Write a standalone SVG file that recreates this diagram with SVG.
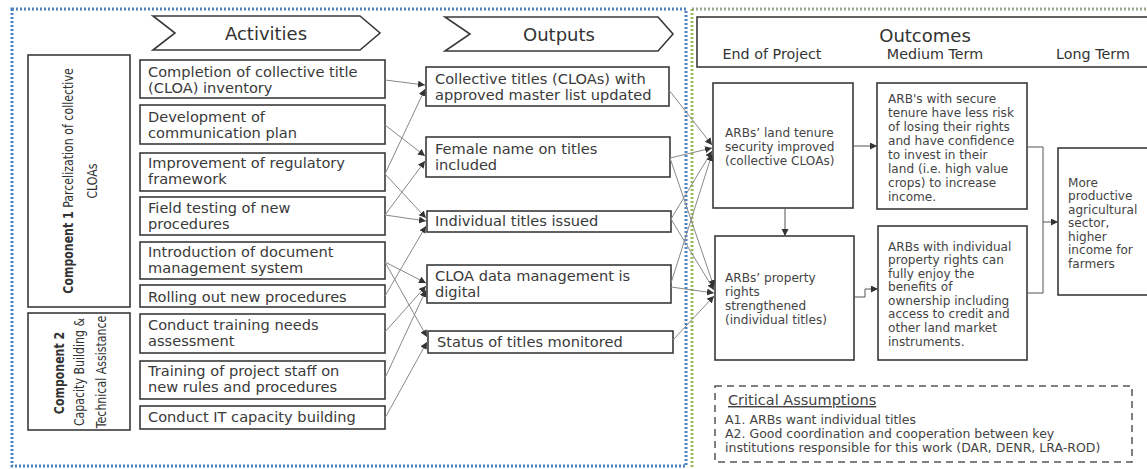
<svg xmlns="http://www.w3.org/2000/svg" width="1147" height="469" viewBox="0 0 1147 469">
<style>
.bx{fill:#fff;stroke:#3a3a3a;stroke-width:1.6}
.t{font-family:"DejaVu Sans",sans-serif;font-size:14.6px;fill:#3a3a3a}
.to{font-family:"DejaVu Sans",sans-serif;font-size:12.1px;fill:#444}
.ta{font-family:"DejaVu Sans",sans-serif;font-size:12.5px;fill:#444}
.h{font-family:"DejaVu Sans",sans-serif;font-size:18px;fill:#333;text-anchor:middle}
.sh{font-family:"DejaVu Sans",sans-serif;font-size:14.3px;fill:#333;text-anchor:middle}
.rv{font-family:"DejaVu Sans",sans-serif;font-size:11px;fill:#333;text-anchor:middle}
.c{fill:none;stroke:#888;stroke-width:1}
.cd{fill:none;stroke:#555;stroke-width:1}
</style>
<defs>
<marker id="ah" markerUnits="userSpaceOnUse" markerWidth="8" markerHeight="8" refX="7" refY="3.5" orient="auto">
<path d="M0,0 L7,3.5 L0,7 z" fill="#333"/>
</marker>
</defs>
<rect width="1147" height="469" fill="#fff"/>
<g id="borders">
<rect x="12" y="9" width="674" height="457" fill="none" stroke="#4f81bd" stroke-width="3" stroke-dasharray="2 2"/>
<line x1="692" y1="9" x2="692" y2="469" stroke="#9bbb59" stroke-width="3" stroke-dasharray="2 2"/>
<line x1="692" y1="9" x2="1147" y2="9" stroke="#9aa98a" stroke-width="3" stroke-dasharray="2 2"/>
</g>
<g id="hdr-activities">
<polygon class="bx" points="153,16 360,16 380,33 360,50 153,50 175,33"/>
<text class="h" x="266" y="40">Activities</text>
</g>
<g id="hdr-outputs">
<polygon class="bx" points="445,17 658,17 673,34 658,51 445,51 470,34"/>
<text class="h" x="559" y="41">Outputs</text>
</g>
<g id="hdr-outcomes">
<rect class="bx" x="697" y="17" width="470" height="50"/>
<text class="h" x="925" y="42">Outcomes</text>
<text class="sh" x="772" y="59">End of Project</text>
<text class="sh" x="935" y="59">Medium Term</text>
<text class="sh" x="1093" y="59">Long Term</text>
</g>
<g id="component1">
<rect class="bx" x="28" y="55" width="102" height="252"/>
<text class="rv" transform="translate(73,181) rotate(-90) scale(1,1.3)"><tspan font-weight="bold">Component 1</tspan> Parcelization of collective</text>
<text class="rv" transform="translate(97,181) rotate(-90) scale(1,1.3)">CLOAs</text>
</g>
<g id="component2">
<rect class="bx" x="28" y="313" width="102" height="117"/>
<text class="rv" font-weight="bold" transform="translate(64,373) rotate(-90) scale(1,1.3)">Component 2</text>
<text class="rv" transform="translate(84,372) rotate(-90) scale(1,1.3)">Capacity Building &amp;</text>
<text class="rv" transform="translate(106,372) rotate(-90) scale(1,1.3)">Technical Assistance</text>
</g>
<g id="act1"><rect class="bx" x="140" y="60" width="245" height="38"/><text class="t" x="148" y="77">Completion of collective title</text><text class="t" x="148" y="93">(CLOA) inventory</text></g>
<g id="act2"><rect class="bx" x="140" y="105" width="245" height="39"/><text class="t" x="148" y="122">Development of</text><text class="t" x="148" y="138">communication plan</text></g>
<g id="act3"><rect class="bx" x="140" y="153" width="245" height="38"/><text class="t" x="148" y="168">Improvement of regulatory</text><text class="t" x="148" y="184">framework</text></g>
<g id="act4"><rect class="bx" x="140" y="197" width="245" height="38"/><text class="t" x="148" y="213">Field testing of new</text><text class="t" x="148" y="229">procedures</text></g>
<g id="act5"><rect class="bx" x="140" y="242" width="245" height="37"/><text class="t" x="148" y="257">Introduction of document</text><text class="t" x="148" y="273">management system</text></g>
<g id="act6"><rect class="bx" x="140" y="285" width="245" height="22"/><text class="t" x="148" y="302">Rolling out new procedures</text></g>
<g id="act7"><rect class="bx" x="140" y="314" width="245" height="39"/><text class="t" x="148" y="330">Conduct training needs</text><text class="t" x="148" y="346">assessment</text></g>
<g id="act8"><rect class="bx" x="140" y="361" width="245" height="38"/><text class="t" x="148" y="376">Training of project staff on</text><text class="t" x="148" y="392">new rules and procedures</text></g>
<g id="act9"><rect class="bx" x="140" y="406" width="245" height="23"/><text class="t" x="148" y="422">Conduct IT capacity building</text></g>
<g id="out1"><rect class="bx" x="426" y="67" width="243" height="39"/><text class="t" x="435" y="84">Collective titles (CLOAs) with</text><text class="t" x="435" y="100">approved master list updated</text></g>
<g id="out2"><rect class="bx" x="426" y="137" width="244" height="40"/><text class="t" x="435" y="154">Female name on titles</text><text class="t" x="435" y="170">included</text></g>
<g id="out3"><rect class="bx" x="427" y="211" width="244" height="21"/><text class="t" x="435" y="226">Individual titles issued</text></g>
<g id="out4"><rect class="bx" x="427" y="265" width="244" height="38"/><text class="t" x="435" y="281">CLOA data management is</text><text class="t" x="435" y="297">digital</text></g>
<g id="out5"><rect class="bx" x="428" y="331" width="245" height="22"/><text class="t" x="437" y="347">Status of titles monitored</text></g>
<g id="oc-a"><rect class="bx" x="713" y="83" width="140" height="125"/><text class="to" x="725" y="137">ARBs’ land tenure</text><text class="to" x="725" y="151">security improved</text><text class="to" x="725" y="165">(collective CLOAs)</text></g>
<g id="oc-b"><rect class="bx" x="715" y="236" width="139" height="124"/><text class="to" x="725" y="282">ARBs’ property</text><text class="to" x="725" y="296">rights</text><text class="to" x="725" y="310">strengthened</text><text class="to" x="725" y="324">(individual titles)</text></g>
<g id="oc-c"><rect class="bx" x="877" y="83" width="150" height="126"/>
<text class="to" x="888" y="103">ARB's with secure</text><text class="to" x="888" y="117">tenure have less risk</text><text class="to" x="888" y="131">of losing their rights</text><text class="to" x="888" y="145">and have confidence</text><text class="to" x="888" y="159">to invest in their</text><text class="to" x="888" y="173">land (i.e. high value</text><text class="to" x="888" y="187">crops) to increase</text><text class="to" x="888" y="201">income.</text></g>
<g id="oc-d"><rect class="bx" x="878" y="226" width="149" height="134"/>
<text class="to" x="888" y="251">ARBs with individual</text><text class="to" x="888" y="264">property rights can</text><text class="to" x="888" y="278">fully enjoy the</text><text class="to" x="888" y="291">benefits of</text><text class="to" x="888" y="305">ownership including</text><text class="to" x="888" y="318">access to credit and</text><text class="to" x="888" y="332">other land market</text><text class="to" x="888" y="346">instruments.</text></g>
<g id="oc-e"><rect class="bx" x="1058" y="148" width="100" height="147"/>
<text class="to" x="1068" y="187">More</text><text class="to" x="1068" y="200">productive</text><text class="to" x="1068" y="214">agricultural</text><text class="to" x="1068" y="227">sector,</text><text class="to" x="1068" y="241">higher</text><text class="to" x="1068" y="254">income for</text><text class="to" x="1068" y="268">farmers</text></g>
<g id="assumptions">
<rect x="715" y="386" width="417" height="76" fill="none" stroke="#555" stroke-width="1.5" stroke-dasharray="7 5"/>
<text x="728" y="405" font-family="DejaVu Sans, sans-serif" font-size="14.5" fill="#444" text-decoration="underline">Critical Assumptions</text>
<text class="ta" x="725" y="424">A1. ARBs want individual titles</text>
<text class="ta" x="725" y="438">A2. Good coordination and cooperation between key</text>
<text class="ta" x="725" y="452">institutions responsible for this work (DAR, DENR, LRA-ROD)</text>
</g>
<g id="connectors">
<line class="c" x1="385" y1="80" x2="425" y2="85" marker-end="url(#ah)"/>
<line class="c" x1="385" y1="125" x2="425" y2="156" marker-end="url(#ah)"/>
<line class="c" x1="385" y1="174" x2="425" y2="89" marker-end="url(#ah)"/>
<line class="c" x1="385" y1="174" x2="426" y2="218" marker-end="url(#ah)"/>
<line class="c" x1="385" y1="215" x2="425" y2="161" marker-end="url(#ah)"/>
<line class="c" x1="385" y1="215" x2="426" y2="221" marker-end="url(#ah)"/>
<line class="c" x1="385" y1="296" x2="426" y2="226" marker-end="url(#ah)"/>
<line class="c" x1="385" y1="262" x2="426" y2="283" marker-end="url(#ah)"/>
<line class="c" x1="385" y1="262" x2="427" y2="337" marker-end="url(#ah)"/>
<line class="c" x1="385" y1="332" x2="426" y2="286" marker-end="url(#ah)"/>
<line class="c" x1="385" y1="378" x2="426" y2="290" marker-end="url(#ah)"/>
<line class="c" x1="385" y1="418" x2="427" y2="342" marker-end="url(#ah)"/>
<line class="c" x1="669" y1="90" x2="712" y2="145" marker-end="url(#ah)"/>
<line class="c" x1="670" y1="158" x2="712" y2="148" marker-end="url(#ah)"/>
<line class="c" x1="670" y1="158" x2="714" y2="287" marker-end="url(#ah)"/>
<line class="c" x1="671" y1="219" x2="712" y2="151" marker-end="url(#ah)"/>
<line class="c" x1="671" y1="219" x2="714" y2="290" marker-end="url(#ah)"/>
<line class="c" x1="671" y1="283" x2="712" y2="154" marker-end="url(#ah)"/>
<line class="c" x1="671" y1="287" x2="714" y2="293" marker-end="url(#ah)"/>
<line class="c" x1="673" y1="340" x2="714" y2="296" marker-end="url(#ah)"/>
<line class="cd" x1="853" y1="146" x2="877" y2="146" marker-end="url(#ah)"/>
<line class="cd" x1="785" y1="208" x2="785" y2="236" marker-end="url(#ah)"/>
<polyline class="cd" points="854,297 865,297 865,289 878,289" marker-end="url(#ah)"/>
<polyline class="cd" points="1027,147 1043,147 1043,293 1027,293"/>
<line class="cd" x1="1043" y1="222" x2="1058" y2="222" marker-end="url(#ah)"/>
</g>
</svg>
